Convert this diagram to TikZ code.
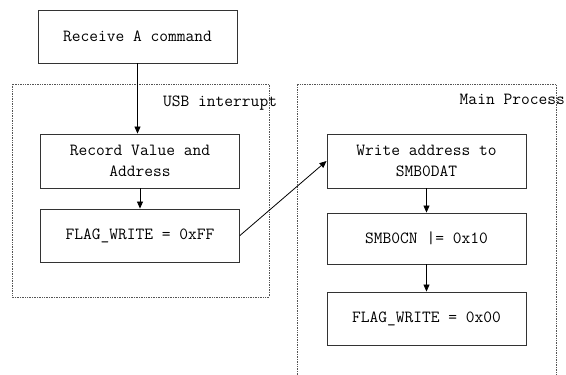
\documentclass[tikz,border=0pt]{standalone}
\usetikzlibrary{positioning, arrows.meta}
\definecolor{BoxLine}{HTML}{333333}
\definecolor{FrameLine}{HTML}{555555}

\tikzset{
  stepbox/.style={draw=BoxLine, line width=0.9pt, minimum width=199pt, minimum height=53pt,
    align=center, font=\fontsize{17}{21}\selectfont\ttfamily, inner sep=2pt},
  frame/.style={draw=FrameLine, line width=0.7pt, densely dotted},
  flow/.style={-{Triangle[length=7pt,width=6pt]}, line width=0.8pt, black},
  framelabel/.style={font=\fontsize{17}{21}\selectfont\ttfamily, inner sep=0pt}
}

\begin{document}
\begin{tikzpicture}[x=1pt, y=-1pt]
    \useasboundingbox (0,0) rectangle (566,375);

    % Frames
    \draw[frame] (12,84) rectangle (269,297);
    \draw[frame] (297,375) -- (297,84) -- (556,84) -- (556,375);
    \node[framelabel, anchor=base west] (usblabel) at (163,106) {USB interrupt};
    \node[framelabel, anchor=base east] (mainlabel) at (565,104) {Main Process};

    % USB interrupt side
    \node[stepbox] (recv) at (137.5,36.5) {Receive A command};
    \node[stepbox, minimum height=54pt] (record) at (140,161) {Record Value and\\Address};
    \node[stepbox] (flagff) at (140,235.5) {FLAG\_WRITE = 0xFF};

    % Main process side
    \node[stepbox, minimum height=54pt] (write) at (426.5,161) {Write address to\\SMB0DAT};
    \node[stepbox, minimum height=51pt] (smbcn) at (426.5,238.5) {SMB0CN |= 0x10};
    \node[stepbox] (flagzero) at (426.5,318.5) {FLAG\_WRITE = 0x00};

    % Connectors
    \draw[flow] (recv.south) -- (recv.south |- record.north);
    \draw[flow] (record.south) -- (flagff.north);
    \draw[flow] (flagff.east) -- (write.west);
    \draw[flow] (write.south) -- (smbcn.north);
    \draw[flow] (smbcn.south) -- (flagzero.north);
\end{tikzpicture}
\end{document}
